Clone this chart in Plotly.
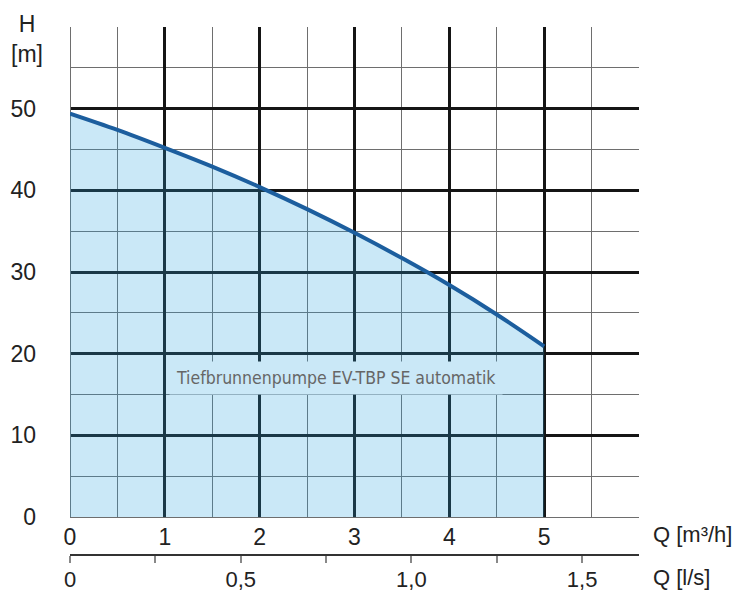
import plotly.graph_objects as go

# Data
Q_m3h = [0, 0.5, 1, 1.5, 2, 2.5, 3, 3.5, 4, 4.5, 5]
H_m = [49.4, 47.4, 45.2, 42.9, 40.4, 37.7, 34.8, 31.7, 28.4, 24.8, 20.9]

x_major = [0, 1, 2, 3, 4, 5]
y_major = [0, 10, 20, 30, 40, 50]

ls_vals = [0, 0.25, 0.5, 0.75, 1.0, 1.25, 1.5]
ls_text = ["0", "", "0,5", "", "1,0", "", "1,5"]

curve_label = "Tiefbrunnenpumpe EV-TBP SE automatik"

FONT = "Liberation Sans, Arial, sans-serif"
MAJOR = "#151515"
MINOR = "#6e6e6e"

fig = go.Figure()
fig.add_trace(go.Scatter(
    x=Q_m3h, y=H_m, mode="lines", line=dict(color="#1c5e9e", width=4, shape="spline"),
    fill="tozeroy", fillcolor="rgba(43,163,223,0.25)", showlegend=False, hoverinfo="skip"))
# invisible trace on the l/s axis
fig.add_trace(go.Scatter(x=[0, 6 / 3.6], y=[None, None], xaxis="x2", yaxis="y",
                         mode="lines", showlegend=False, hoverinfo="skip"))

fig.update_layout(
    width=734, height=594,
    margin=dict(l=70, r=95, t=27, b=20, autoexpand=False),
    paper_bgcolor="white", plot_bgcolor="white",
    font=dict(family=FONT, size=23, color="#222"),
    xaxis=dict(range=[0, 6], tickvals=x_major, showgrid=True, gridcolor=MAJOR, gridwidth=2.5,
               minor=dict(dtick=0.5, tick0=0, showgrid=True, gridcolor=MINOR, gridwidth=1),
               zeroline=True, zerolinecolor=MINOR, zerolinewidth=1, automargin=False,
               ticks="", ticklabelstandoff=4, showline=False, anchor="y", fixedrange=True),
    yaxis=dict(range=[0, 60], tickvals=y_major, showgrid=True, gridcolor=MAJOR, gridwidth=2.5,
               minor=dict(dtick=5, tick0=0, showgrid=True, gridcolor=MINOR, gridwidth=1),
               zeroline=True, zerolinecolor=MINOR, zerolinewidth=1, automargin=False,
               ticks="", ticklabelstandoff=33, domain=[0.1042, 1], fixedrange=True),
    xaxis2=dict(range=[0, 6 / 3.6], overlaying="x", anchor="free", position=0.034, side="bottom",
                tickvals=ls_vals, ticktext=ls_text, ticks="outside", ticklen=7, tickwidth=1.5,
                tickcolor="#888", showline=True, linecolor="#333", linewidth=1.5, automargin=False,
                ticklabelstandoff=-3, tickfont=dict(size=22),
                showgrid=False, zeroline=False, fixedrange=True),
    annotations=[
        dict(text="H<br>[m]", xref="paper", yref="paper", x=(27 - 70) / 569, y=(574 - 39) / 547,
             xanchor="center", yanchor="middle", showarrow=False, font=dict(size=23, color="#222")),
        dict(text="Q [m³/h]", xref="paper", yref="paper", x=(651 - 70) / 569, y=(574 - 534) / 547,
             xanchor="left", yanchor="middle", showarrow=False, font=dict(size=22, color="#222")),
        dict(text="Q [l/s]", xref="paper", yref="paper", x=(651 - 70) / 569, y=(574 - 577) / 547,
             xanchor="left", yanchor="middle", showarrow=False, font=dict(size=22, color="#222")),
        dict(text=curve_label, xref="x", yref="y", x=2.81, y=17.05, showarrow=False,
             font=dict(family="DejaVu Sans Condensed, Liberation Sans, sans-serif", size=17.5, color="#666"),
             bgcolor="#cae8f7", borderpad=6),
    ],
)

fig.write_html("out.html", config={"displayModeBar": False},
               post_script="document.body.style.margin='0';document.body.style.padding='0';")
